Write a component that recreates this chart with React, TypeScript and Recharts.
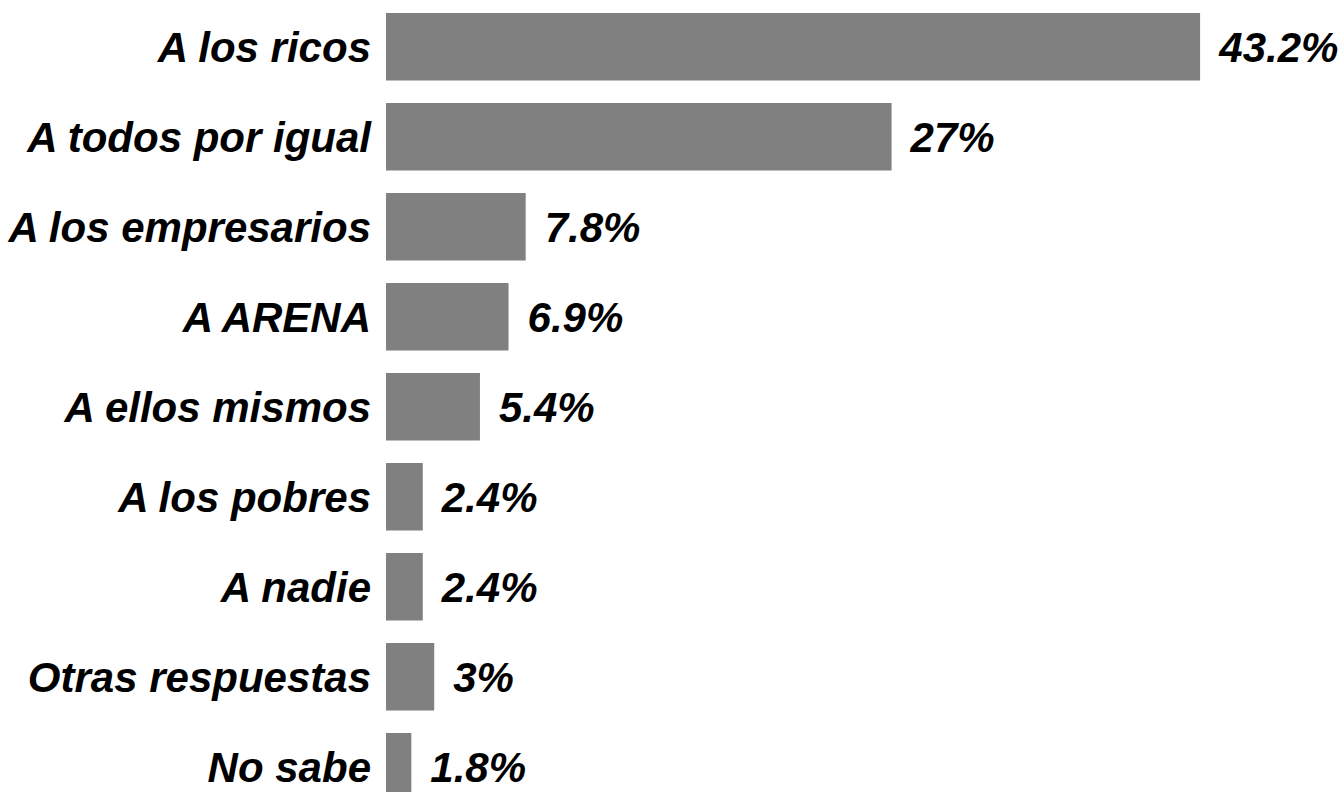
import { BarChart, Bar, XAxis, YAxis, LabelList } from 'recharts';

const categories = [
  'A los ricos',
  'A todos por igual',
  'A los empresarios',
  'A ARENA',
  'A ellos mismos',
  'A los pobres',
  'A nadie',
  'Otras respuestas',
  'No sabe',
];

const values = [43.2, 27, 7.8, 6.9, 5.4, 2.4, 2.4, 3, 1.8];

const data = categories.map((name, i) => ({ name, value: values[i] }));

const font = '"Liberation Sans", Arial, sans-serif';

const textStyle = {
  fontSize: 42,
  fontWeight: 'bold',
  fontStyle: 'italic',
  fill: '#000',
  fontFamily: font,
};

export default function App() {
  return (
    <div style={{ position: 'fixed', left: 0, top: 0, width: 1340, height: 792, overflow: 'hidden', background: '#fff' }}>
      <BarChart
        width={1340}
        height={812}
        data={data}
        layout="vertical"
        margin={{ top: 2, right: 139.7, left: 0, bottom: 0 }}
        barSize={67.4}
      >
        <XAxis type="number" hide domain={[0.47, 43.2]} allowDataOverflow />
        <YAxis
          type="category"
          dataKey="name"
          width={386}
          axisLine={false}
          tickLine={false}
          tickSize={0}
          tickMargin={15}
          interval={0}
          tick={textStyle}
        />
        <Bar dataKey="value" fill="#808080" isAnimationActive={false}>
          <LabelList
            dataKey="value"
            position="right"
            offset={19}
            formatter={(v: number) => `${v}%`}
            style={textStyle}
          />
        </Bar>
      </BarChart>
    </div>
  );
}
